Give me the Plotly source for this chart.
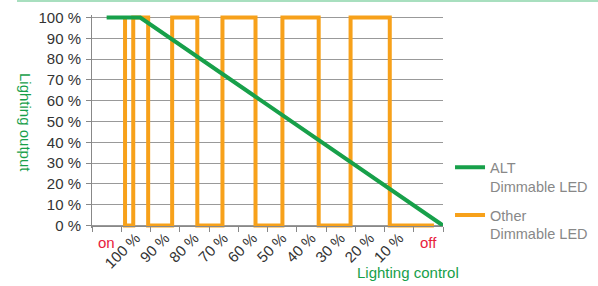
import plotly.graph_objects as go

# ---- data ----
categories = ["on", "100 %", "90 %", "80 %", "70 %", "60 %", "50 %",
              "40 %", "30 %", "20 %", "10 %", "off"]
y_tick_values = [0, 10, 20, 30, 40, 50, 60, 70, 80, 90, 100]
y_tick_labels = ["0 %", "10 %", "20 %", "30 %", "40 %", "50 %", "60 %",
                 "70 %", "80 %", "90 %", "100 %"]

alt_x = [0.5, 1.65, 12.0]
alt_y = [100, 100, 0]

other_x = [1.13, 1.13, 1.41, 1.92, 2.74, 3.60, 4.46, 5.59, 6.51, 7.75, 8.84, 10.18, 11.69]
other_y = [100, 0, 100, 0, 100, 0, 100, 0, 100, 0, 100, 0, 0]

GREEN = "#17a04a"
ORANGE = "#f7a11a"
RED = "#e8203c"
FONT = "Liberation Sans, Arial, sans-serif"

W, H = 598, 286
ML, MR, MT, MB = 92, 155, 15, 58
YMIN, YMAX = -1.2, 101.2
zero_pos = (0 - YMIN) / (YMAX - YMIN)

fig = go.Figure()
fig.add_trace(go.Scatter(
    x=other_x, y=other_y, mode="lines", line=dict(color=ORANGE, width=4, shape="hv"),
    name="Other<br>Dimmable LED", legendrank=2, legendgroup="other",
    xaxis="x", yaxis="y"))
fig.add_trace(go.Scatter(
    x=alt_x, y=alt_y, mode="lines", line=dict(color=GREEN, width=4),
    name="ALT<br>Dimmable LED", legendrank=1, legendgroup="alt",
    xaxis="x2", yaxis="y"))

n = len(categories)
label_vals = [i + 0.5 for i in range(1, n - 1)]
label_text = categories[1:-1]

fig.update_layout(
    width=W, height=H,
    margin=dict(l=ML, r=MR, t=MT, b=MB, autoexpand=False),
    paper_bgcolor="white", plot_bgcolor="white",
    font=dict(family=FONT, size=15, color="#333"),
    xaxis=dict(range=[0, n], tickmode="array", tickvals=list(range(n + 1)),
               ticktext=[""] * (n + 1), ticks="outside", ticklen=5, tickcolor="#888",
               showline=True, linecolor="#888", showgrid=False, zeroline=False,
               anchor="free", position=zero_pos, automargin=False),
    xaxis2=dict(range=[0, n], overlaying="x", tickmode="array", tickvals=label_vals,
                ticktext=label_text, tickangle=-45, ticks="", showline=False,
                showgrid=False, zeroline=False, anchor="free", position=zero_pos,
                side="bottom", automargin=False, tickfont=dict(size=15, color="#333")),
    yaxis=dict(range=[YMIN, YMAX], tickmode="array", tickvals=y_tick_values,
               ticktext=y_tick_labels, ticks="outside", ticklen=5, tickcolor="#888",
               showline=True, linecolor="#888", showgrid=True, gridcolor="#999",
               gridwidth=1, zeroline=False, automargin=False, ticklabelstandoff=2,
               tickfont=dict(size=15, color="#333")),
    showlegend=True,
    legend=dict(x=1.02, y=0.36, xanchor="left", yanchor="top", valign="top",
                itemwidth=30, traceorder="grouped", tracegroupgap=7,
                font=dict(size=14.5, color="#888"), bgcolor="rgba(0,0,0,0)"),
)

pw = W - ML - MR
ph = H - MT - MB

def px_x(px):
    return (px - ML) / pw

def px_y(py):
    return (H - MB - py) / ph

fig.add_annotation(x=0.5, y=zero_pos, xref="x", yref="paper", text=categories[0],
                   showarrow=False, yanchor="top", yshift=-6,
                   font=dict(size=15, color=RED))
fig.add_annotation(x=n - 0.5, y=zero_pos, xref="x", yref="paper", text=categories[-1],
                   showarrow=False, yanchor="top", yshift=-6,
                   font=dict(size=15, color=RED))
fig.add_annotation(x=px_x(408), y=px_y(272), xref="paper", yref="paper",
                   xanchor="center", yanchor="middle",
                   text="Lighting control", showarrow=False,
                   font=dict(size=15, color=GREEN))
fig.add_annotation(x=px_x(25), y=px_y(122), xref="paper", yref="paper",
                   xanchor="center", yanchor="middle",
                   text="Lighting output", showarrow=False, textangle=90,
                   font=dict(size=15, color=GREEN))
fig.add_shape(type="line", xref="paper", yref="paper",
              x0=px_x(17), x1=px_x(598), y0=px_y(1), y1=px_y(1),
              line=dict(color="#a8dfbf", width=2))

fig.write_html("out.html", config={"displayModeBar": False},
               post_script="document.body.style.margin='0';document.body.style.overflow='hidden';")
